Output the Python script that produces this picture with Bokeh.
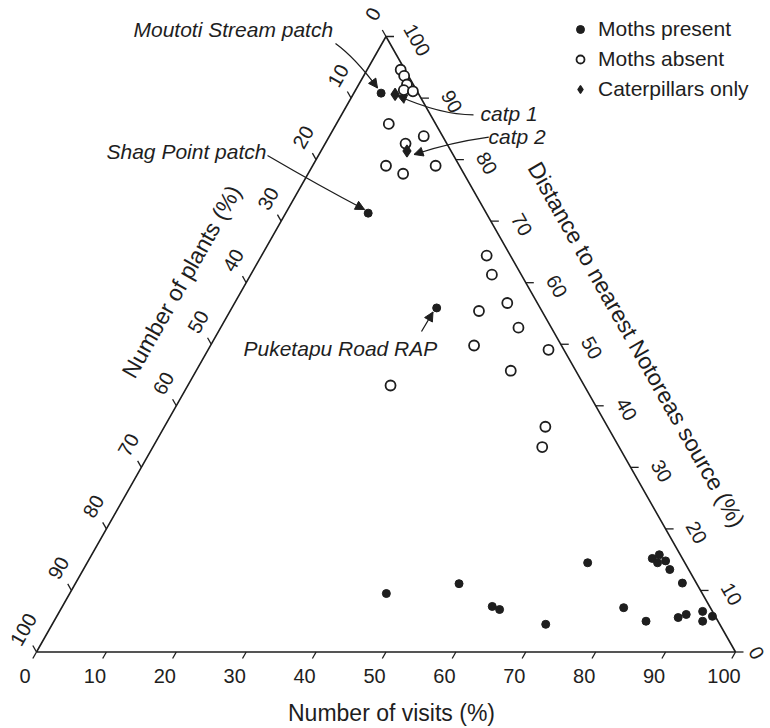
import numpy as np
from bokeh.plotting import figure
from bokeh.models import Range1d, ColumnDataSource, Legend, LegendItem, Arrow, NormalHead, Label
from bokeh.core.properties import value
from bokeh.embed import file_html
from bokeh.resources import INLINE

# ---------------- data (ternary %) ----------------
present_visits = [3.9, 11.8, 29.3, 45.3, 54.9, 61.5, 62.8, 70.6, 71.6, 80.5, 81.2,
                  81.6, 82.6, 83.9, 86.8, 80.4, 84.7, 89.0, 89.9, 92.0, 92.8, 93.8]
present_plants = [5.3, 16.9, 14.8, 45.2, 34.0, 31.1, 30.3, 24.9, 13.9, 4.3, 3.0,
                  3.9, 2.6, 2.7, 2.0, 12.4, 10.3, 5.4, 4.0, 1.4, 2.2, 0.4]
present_distance = [90.8, 71.3, 55.9, 9.5, 11.1, 7.4, 6.9, 4.5, 14.5, 15.2, 15.8,
                    14.5, 14.8, 13.4, 11.2, 7.2, 5.0, 5.6, 6.1, 6.6, 5.0, 5.8]

absent_visits = [4.8, 5.8, 6.9, 6.9, 8.3, 7.5, 13.5, 11.5, 10.5, 13.6, 17.6,
                 32.2, 34.5, 39.0, 35.6, 42.6, 37.7, 48.7, 45.0, 54.5, 55.7, 29.0]
absent_plants = [0.6, 0.6, 0.9, 1.8, 0.6, 6.7, 2.7, 5.9, 10.5, 8.7, 3.4,
                 3.4, 4.2, 4.3, 9.0, 4.7, 12.5, 2.2, 9.3, 8.9, 11.0, 27.7]
absent_distance = [94.6, 93.6, 92.2, 91.3, 91.1, 85.8, 83.8, 82.6, 79.0, 77.7, 79.0,
                   64.4, 61.3, 56.7, 55.4, 52.7, 49.8, 49.1, 45.7, 36.6, 33.3, 43.3]

catp_visits = [6.0, 12.3]
catp_plants = [3.4, 6.3]
catp_distance = [90.6, 81.4]

tick_values = [0, 10, 20, 30, 40, 50, 60, 70, 80, 90, 100]
tick_labels = ["0", "10", "20", "30", "40", "50", "60", "70", "80", "90", "100"]

# ---------------- layout ----------------
W, H = 770, 728
OX, OY = 36.0, 651.5      # screen px of the plants-100 vertex
SX, SY = 6.99, 6.155      # px per percent unit (x) / per distance unit (y)
FONT = "Liberation Sans"
INK = "#1e1e1e"


def tern(v, d):
    v = np.asarray(v, float)
    d = np.asarray(d, float)
    return v + d / 2.0, d


def P(px, py):
    return (px - OX) / SX, (OY - py) / SY


def Dv(dpx, dpy):
    return dpx / SX, -dpy / SY


p = figure(width=W, height=H, output_backend="svg", toolbar_location=None,
           x_range=Range1d(-OX / SX, (W - OX) / SX),
           y_range=Range1d(-(H - OY) / SY, OY / SY),
           x_axis_location=None, y_axis_location=None, min_border=0)
p.grid.visible = False
p.outline_line_color = None
p.background_fill_color = "white"

# triangle
p.line([0, 100, 50, 0], [0, 0, 100, 0], line_color=INK, line_width=1.6)

t = np.array(tick_values, float)
edge_ang = np.arctan2(100 * SY, 50 * SX)
L = 7.5
# bottom axis (visits)
bx, by = t, np.zeros_like(t)
bdx, bdy = Dv(-np.cos(edge_ang) * L, np.sin(edge_ang) * L)
p.segment(bx, by, bx + bdx, by + bdy, line_color=INK, line_width=1.3)
lx, ly = Dv(-11.5, 23.5)
p.text(bx + lx, by + ly, text=tick_labels, text_align="center", text_baseline="middle",
       text_font=value(FONT), text_font_size="20px", text_color=INK)
# left axis (plants)
lX, lY = (100 - t) / 2.0, 100 - t
ldx, ldy = Dv(-np.cos(edge_ang) * L, -np.sin(edge_ang) * L)
p.segment(lX, lY, lX + ldx, lY + ldy, line_color=INK, line_width=1.3)
ox_, oy_ = Dv(-13, -22.5)
p.text(lX + ox_, lY + oy_, text=tick_labels, angle=edge_ang, text_align="center",
       text_baseline="middle", text_font=value(FONT), text_font_size="20px", text_color=INK)
# right axis (distance)
rX, rY = 100 - t / 2.0, t
rdx, _ = Dv(8, 0)
p.segment(rX, rY, rX + rdx, rY, line_color=INK, line_width=1.3)
offs = [Dv(21, 1) if len(s) == 1 else Dv(31, 3.5) for s in tick_labels]
p.text(rX + np.array([o[0] for o in offs]), rY + np.array([o[1] for o in offs]),
       text=tick_labels, angle=-edge_ang, text_align="center", text_baseline="middle",
       text_font=value(FONT), text_font_size="20px", text_color=INK)

# axis titles
tx, ty = P(391, 712)
p.text([tx], [ty], text=["Number of visits (%)"], text_align="center", text_baseline="middle",
       text_font=value(FONT), text_font_size="23px", text_color=INK)
tx, ty = P(181, 281)
p.text([tx], [ty], text=["Number of plants (%)"], angle=edge_ang, text_align="center",
       text_baseline="middle", text_font=value(FONT), text_font_size="23px", text_color=INK)
tx, ty = P(636, 344)
p.text([tx], [ty], text=["Distance to nearest Notoreas source (%)"], angle=-edge_ang,
       text_align="center", text_baseline="middle", text_font=value(FONT),
       text_font_size="23px", text_color=INK)

# data points
x, y = tern(absent_visits, absent_distance)
r_abs = p.scatter(x, y, marker="circle", size=10, fill_color="white",
                  line_color=INK, line_width=1.8)
x, y = tern(catp_visits, catp_distance)
r_cat = p.scatter(x, y, marker="diamond", size=12, fill_color=INK,
                  line_color=INK, line_width=1.2)
x, y = tern(present_visits, present_distance)
r_pre = p.scatter(x, y, marker="circle", size=8, fill_color=INK, line_color=INK)

# annotations
notes = [("Moutoti Stream patch", 133, 28.5), ("Shag Point patch", 106, 151),
         ("Puketapu Road RAP", 243, 347.5), ("catp 1", 480, 113), ("catp 2", 488, 136)]
for txt, px, py in notes:
    ax, ay = P(px, py)
    p.add_layout(Label(x=ax, y=ay, text=txt, text_font=FONT, text_font_size="21px",
                       text_font_style="italic", text_align="left",
                       text_baseline="middle", text_color=INK))

curves = [((335, 43), (355, 57.5), (377, 87.5)),
          ((267, 155), (320, 186), (364, 209)),
          ((421, 331), (427, 321), (432.5, 311.5)),
          ((473, 114.3), (439.6, 114.3), (397, 95)),
          ((488.3, 136.7), (450, 142), (413.5, 154))]
for (s, c, e) in curves:
    x0, y0 = P(*s)
    cx, cy = P(*c)
    x1, y1 = P(*e)
    p.quadratic(x0=[x0], y0=[y0], cx=[cx], cy=[cy], x1=[x1], y1=[y1],
                line_color=INK, line_width=1.3)
    dx, dy = e[0] - c[0], e[1] - c[1]
    n = np.hypot(dx, dy)
    sx, sy = P(e[0] - dx / n * 3, e[1] - dy / n * 3)
    p.add_layout(Arrow(end=NormalHead(size=9, fill_color=INK, line_color=INK),
                       x_start=sx, y_start=sy, x_end=x1, y_end=y1,
                       line_color=INK, line_width=1.3))

legend = Legend(items=[LegendItem(label="Moths present", renderers=[r_pre]),
                       LegendItem(label="Moths absent", renderers=[r_abs]),
                       LegendItem(label="Caterpillars only", renderers=[r_cat])],
                location=(570, 627), orientation="vertical",
                label_text_font=FONT, label_text_font_size="21px", label_text_color=INK,
                glyph_width=20, glyph_height=24, label_height=24, spacing=6,
                padding=0, margin=0, label_standoff=8,
                border_line_alpha=0, background_fill_alpha=0)
p.add_layout(legend)

open("out.html", "w").write(file_html(p, INLINE))
